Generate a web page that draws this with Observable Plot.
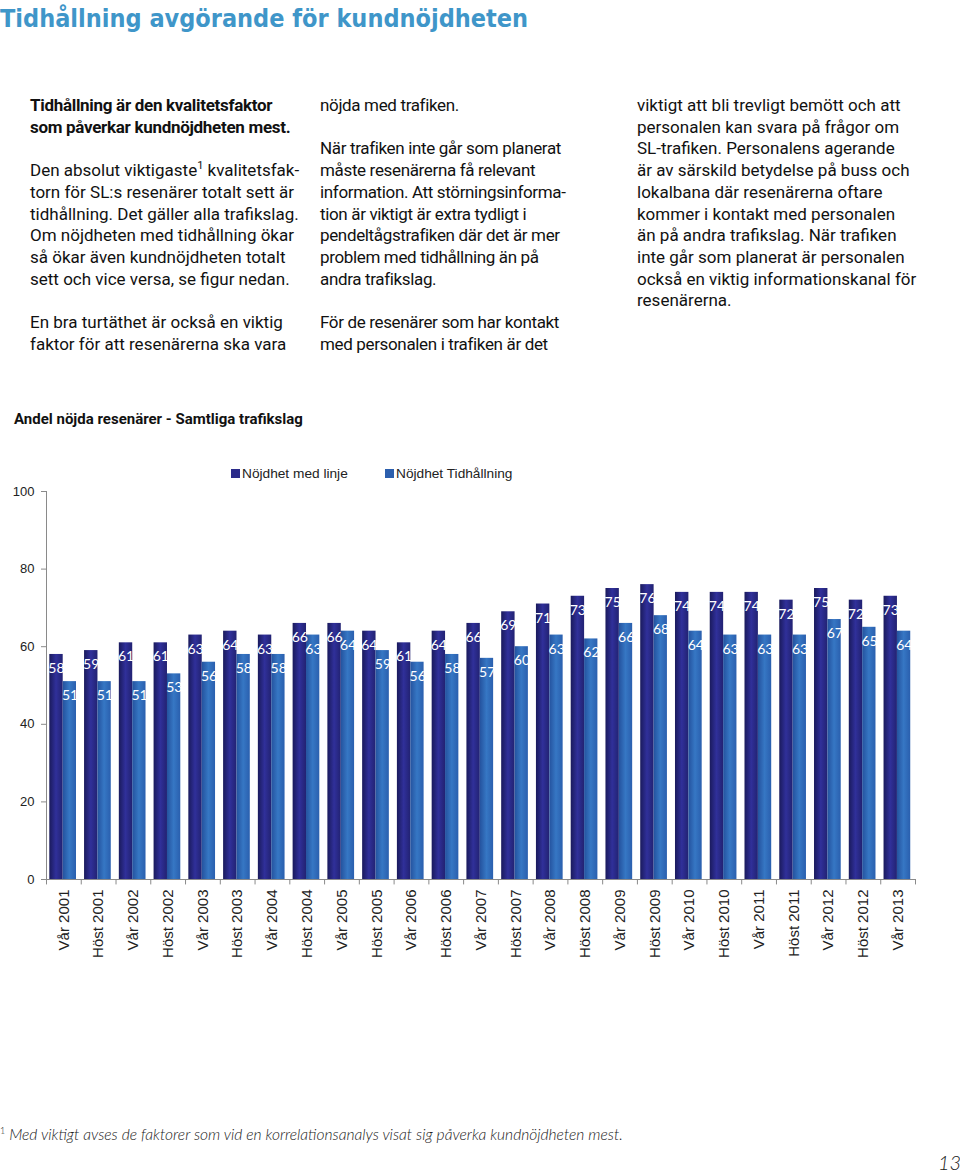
<!DOCTYPE html>
<html><head><meta charset="utf-8">
<script src="https://cdn.jsdelivr.net/npm/d3@7"></script>
<script src="https://cdn.jsdelivr.net/npm/@observablehq/plot@0.6"></script>
<style>
body{margin:0;width:960px;height:1172px;position:relative;background:#fff;color:#111;overflow:hidden;font-family:Roboto,"Noto Sans",sans-serif}
.abs{position:absolute;white-space:nowrap}
.title{left:0;top:0;font-family:"DejaVu Sans Condensed","DejaVu Sans",sans-serif;font-stretch:condensed;font-weight:bold;font-size:25px;line-height:38px;color:#3f96c9}
.col{top:95px;font-size:17px;line-height:21.7px;letter-spacing:0;color:#111}
.col b{font-weight:bold;letter-spacing:-0.3px}
.ctitle{left:14px;top:409px;font-family:Roboto,sans-serif;font-weight:bold;font-size:15px;line-height:20px;color:#111}
.legend{top:465px;font-family:"Liberation Sans",Arial,sans-serif;font-size:13.7px;line-height:18px;color:#222}
.sw{display:inline-block;width:9px;height:9px;margin-right:2px;vertical-align:0px}
.foot{left:0;top:1121px;font-family:Lato,sans-serif;font-style:italic;font-weight:300;font-size:15.6px;line-height:20px;color:#222}
.page{left:938px;top:1150px;font-family:Lato,sans-serif;font-style:italic;font-weight:300;font-size:20px;line-height:24px;color:#222}
#chart{position:absolute;left:0;top:480px}
</style></head><body>
<div class="abs title">Tidhållning avgörande för kundnöjdheten</div>

<div class="abs col" style="left:30px"><b>Tidhållning är den kvalitetsfaktor</b><br><b>som påverkar kundnöjdheten mest.</b><br><br>Den absolut viktigaste<sup style="font-size:11px;line-height:0">1</sup> kvalitetsfak-<br>torn för SL:s resenärer totalt sett är<br>tidhållning. Det gäller alla trafikslag.<br>Om nöjdheten med tidhållning ökar<br>så ökar även kundnöjdheten totalt<br>sett och vice versa, se figur nedan.<br><br>En bra turtäthet är också en viktig<br>faktor för att resenärerna ska vara</div>

<div class="abs col" style="left:320px;letter-spacing:-0.35px">nöjda med trafiken.<br><br>När trafiken inte går som planerat<br>måste resenärerna få relevant<br>information. Att störningsinforma-<br>tion är viktigt är extra tydligt i<br>pendeltågstrafiken där det är mer<br>problem med tidhållning än på<br>andra trafikslag.<br><br>För de resenärer som har kontakt<br>med personalen i trafiken är det</div>

<div class="abs col" style="left:637px">viktigt att bli trevligt bemött och att<br>personalen kan svara på frågor om<br>SL-trafiken. Personalens agerande<br>är av särskild betydelse på buss och<br>lokalbana där resenärerna oftare<br>kommer i kontakt med personalen<br>än på andra trafikslag. När trafiken<br>inte går som planerat är personalen<br>också en viktig informationskanal för<br>resenärerna.</div>

<div class="abs ctitle">Andel nöjda resenärer - Samtliga trafikslag</div>

<div id="legend"></div>
<div id="chart"></div>

<div class="abs foot"><sup style="font-size:9px;font-style:normal">1</sup> Med viktigt avses de faktorer som vid en korrelationsanalys visat sig påverka kundnöjdheten mest.</div>
<div class="abs page">13</div>

<script>
const periods = ["Vår 2001","Höst 2001","Vår 2002","Höst 2002","Vår 2003","Höst 2003","Vår 2004","Höst 2004","Vår 2005","Höst 2005","Vår 2006","Höst 2006","Vår 2007","Höst 2007","Vår 2008","Höst 2008","Vår 2009","Höst 2009","Vår 2010","Höst 2010","Vår 2011","Höst 2011","Vår 2012","Höst 2012","Vår 2013"];
const nojdhetLinje = [58,59,61,61,63,64,63,66,66,64,61,64,66,69,71,73,75,76,74,74,74,72,75,72,73];
const nojdhetTidhallning = [51,51,51,53,56,58,58,63,64,59,56,58,57,60,63,62,66,68,64,63,63,63,67,65,64];
const seriesNames = ["Nöjdhet med linje","Nöjdhet Tidhållning"];
const seriesColors = ["#2b2b8a","#2c5fad"];
const yTicks = [0,20,40,60,80,100];

const linjeRows = periods.map((p,i)=>({period:p, value:nojdhetLinje[i]}));
const tidRows = periods.map((p,i)=>({period:p, value:nojdhetTidhallning[i]}));

// legend
const legend = document.getElementById("legend");
const legendX = [231, 385];
seriesNames.forEach((n,i)=>{
  const d = document.createElement("div");
  d.className = "abs legend";
  d.style.left = legendX[i] + "px";
  d.innerHTML = `<span class="sw" style="background:${seriesColors[i]}"></span>${n}`;
  legend.appendChild(d);
});

const W = 960, H = 495, mL = 46, mR = 45, mT = 11, mB = 96;
const bandW = (W - mL - mR) / periods.length;

function gradientDefs(){
  const defs = d3.create("svg:defs");
  const mk = (id, stops) => {
    const g = defs.append("linearGradient").attr("id", id).attr("x1","0").attr("x2","1").attr("y1","0").attr("y2","0");
    stops.forEach(([o,c]) => g.append("stop").attr("offset", o).attr("stop-color", c));
  };
  mk("gDark", [[0,"#1a1a5c"],[0.5,"#30309a"],[1,"#222272"]]);
  mk("gLight", [[0,"#24529e"],[0.5,"#3677c4"],[1,"#2a5fae"]]);
  return defs.node();
}

const chart = Plot.plot({
  width: W, height: H,
  marginTop: mT, marginBottom: mB, marginLeft: mL, marginRight: mR,
  style: {fontFamily: "'Liberation Sans', Arial, sans-serif", background: "transparent", color: "#222"},
  x: {type: "band", domain: periods, padding: 0, round: false},
  y: {domain: [0, 100]},
  marks: [
    gradientDefs,
    Plot.barY(linjeRows, {x: "period", y: "value", fill: "url(#gDark)", insetLeft: 3.3, insetRight: bandW - 16.7}),
    Plot.barY(tidRows, {x: "period", y: "value", fill: "url(#gLight)", insetLeft: 16.7, insetRight: bandW - 30}),
    Plot.text(linjeRows, {x: "period", y: "value", text: "value", dx: -7.4, dy: 14, fill: "white", fontSize: 14, fontFamily: "Lato, sans-serif"}),
    Plot.text(tidRows, {x: "period", y: "value", text: "value", dx: 6.2, dy: 14, fill: "white", fontSize: 14, fontFamily: "Lato, sans-serif"}),
    Plot.ruleY([0], {stroke: "#8a8a8a"}),
    Plot.ruleX([periods[0]], {x: d => d, dx: -bandW/2, y1: 0, y2: 100, stroke: "#8a8a8a"}),
    Plot.ruleX(periods, {x: d => d, dx: -bandW/2, y1: 0, y2: -1.4, stroke: "#8a8a8a"}),
    Plot.ruleX([periods[periods.length-1]], {x: d => d, dx: bandW/2, y1: 0, y2: -1.4, stroke: "#8a8a8a"}),
    Plot.axisY({ticks: yTicks, tickSize: 5, tickPadding: 7, fontSize: 13, stroke: "#8a8a8a", fill: "#222", label: null}),
    Plot.axisX({tickSize: 0, tickRotate: -90, tickPadding: 10, fontSize: 15, fill: "#222", label: null})
  ]
});
document.getElementById("chart").appendChild(chart);
</script>
</body></html>
